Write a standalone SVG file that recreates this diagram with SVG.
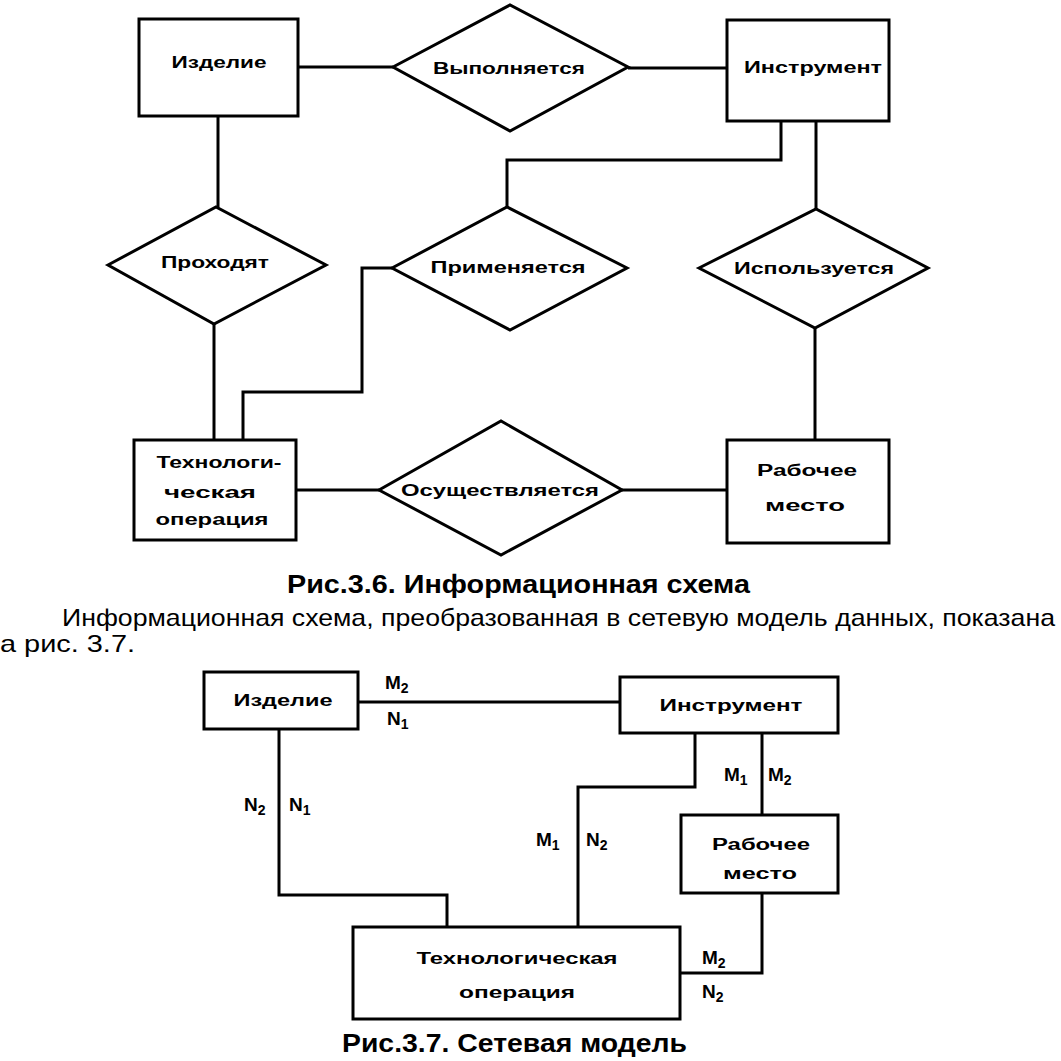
<svg xmlns="http://www.w3.org/2000/svg" width="1061" height="1061" viewBox="0 0 1061 1061">
<style>
.b{fill:#fff;stroke:#000;stroke-width:3}
.c{fill:none;stroke:#000;stroke-width:3;stroke-linejoin:miter}
.t{font-family:"Liberation Sans",Arial,sans-serif;font-weight:bold;font-size:16px;fill:#000;text-anchor:middle}
.l{font-family:"Liberation Sans",Arial,sans-serif;font-weight:bold;font-size:19px;fill:#000}
.s{font-size:14px}
.cap{font-family:"Liberation Sans",Arial,sans-serif;font-weight:bold;font-size:25px;fill:#000}
.p{font-family:"Liberation Sans",Arial,sans-serif;font-size:24px;fill:#000}
</style>
<rect width="1061" height="1061" fill="#fff"/>
<g id="connectors">
<path class="c" d="M298 67H393"/>
<path class="c" d="M628 68H727"/>
<path class="c" d="M218 116V207"/>
<path class="c" d="M214 324V440"/>
<path class="c" d="M507 207V160H781V121"/>
<path class="c" d="M392 268H362V392H243V440"/>
<path class="c" d="M816 121V209"/>
<path class="c" d="M815 328V440"/>
<path class="c" d="M296 490H379"/>
<path class="c" d="M622 490H727"/>
<path class="c" d="M358 702H620"/>
<path class="c" d="M279 729V895H447V927"/>
<path class="c" d="M695 733V787H578V927"/>
<path class="c" d="M762 733V815"/>
<path class="c" d="M762 893V973H680"/>
</g>
<g id="top-izdelie"><rect class="b" x="139" y="19" width="159" height="97"/><text class="t" x="219" y="68" textLength="95" lengthAdjust="spacingAndGlyphs">Изделие</text></g>
<g id="top-vypolnyaetsya"><polygon class="b" points="393,67 510,5 628,67 510,131"/><text class="t" x="509" y="74" textLength="152" lengthAdjust="spacingAndGlyphs">Выполняется</text></g>
<g id="top-instrument"><rect class="b" x="727" y="20" width="162" height="101"/><text class="t" x="813" y="73" textLength="138" lengthAdjust="spacingAndGlyphs">Инструмент</text></g>
<g id="top-prohodyat"><polygon class="b" points="108,265 216,207 326,265 214,324"/><text class="t" x="215" y="268" textLength="108" lengthAdjust="spacingAndGlyphs">Проходят</text></g>
<g id="top-primenyaetsya"><polygon class="b" points="392,268 507,207 627,268 510,330"/><text class="t" x="508" y="273" textLength="155" lengthAdjust="spacingAndGlyphs">Применяется</text></g>
<g id="top-ispolzuetsya"><polygon class="b" points="699,268 816,209 928,268 815,328"/><text class="t" x="814" y="274" textLength="160" lengthAdjust="spacingAndGlyphs">Используется</text></g>
<g id="top-tehoper"><rect class="b" x="134" y="440" width="162" height="100"/>
<text class="t" x="219" y="468" textLength="125" lengthAdjust="spacingAndGlyphs">Технологи-</text>
<text class="t" x="210" y="498" textLength="92" lengthAdjust="spacingAndGlyphs">ческая</text>
<text class="t" x="212" y="525" textLength="113" lengthAdjust="spacingAndGlyphs">операция</text></g>
<g id="top-osuschestvlyaetsya"><polygon class="b" points="379,490 501,421 622,490 501,555"/><text class="t" x="500" y="496" textLength="198" lengthAdjust="spacingAndGlyphs">Осуществляется</text></g>
<g id="top-rabmesto"><rect class="b" x="727" y="440" width="162" height="103"/>
<text class="t" x="807" y="476" textLength="100" lengthAdjust="spacingAndGlyphs">Рабочее</text>
<text class="t" x="805" y="511" textLength="80" lengthAdjust="spacingAndGlyphs">место</text></g>
<text class="cap" x="287" y="593" textLength="463" lengthAdjust="spacingAndGlyphs">Рис.3.6. Информационная схема</text>
<text class="p" x="62" y="626" textLength="993" lengthAdjust="spacingAndGlyphs">Информационная схема, преобразованная в сетевую модель данных, показана</text>
<text class="p" x="0" y="652" textLength="135" lengthAdjust="spacingAndGlyphs">а рис. 3.7.</text>
<g id="bot-izdelie"><rect class="b" x="204" y="672" width="154" height="57"/><text class="t" x="283" y="706" textLength="99" lengthAdjust="spacingAndGlyphs">Изделие</text></g>
<g id="bot-instrument"><rect class="b" x="620" y="677" width="218" height="56"/><text class="t" x="731" y="711" textLength="143" lengthAdjust="spacingAndGlyphs">Инструмент</text></g>
<g id="bot-rabmesto"><rect class="b" x="681" y="815" width="157" height="78"/>
<text class="t" x="761" y="850" textLength="98" lengthAdjust="spacingAndGlyphs">Рабочее</text>
<text class="t" x="760" y="879" textLength="74" lengthAdjust="spacingAndGlyphs">место</text></g>
<g id="bot-tehoper"><rect class="b" x="353" y="927" width="327" height="92"/>
<text class="t" x="517" y="964" textLength="201" lengthAdjust="spacingAndGlyphs">Технологическая</text>
<text class="t" x="517" y="998" textLength="116" lengthAdjust="spacingAndGlyphs">операция</text></g>
<g id="labels">
<text class="l" x="385" y="689">M<tspan class="s" dy="4">2</tspan></text>
<text class="l" x="387" y="725">N<tspan class="s" dy="4">1</tspan></text>
<text class="l" x="244" y="811">N<tspan class="s" dy="4">2</tspan></text>
<text class="l" x="289" y="811">N<tspan class="s" dy="4">1</tspan></text>
<text class="l" x="536" y="846">M<tspan class="s" dy="4">1</tspan></text>
<text class="l" x="586" y="846">N<tspan class="s" dy="4">2</tspan></text>
<text class="l" x="724" y="781">M<tspan class="s" dy="4">1</tspan></text>
<text class="l" x="768" y="781">M<tspan class="s" dy="4">2</tspan></text>
<text class="l" x="702" y="964">M<tspan class="s" dy="4">2</tspan></text>
<text class="l" x="702" y="998">N<tspan class="s" dy="4">2</tspan></text>
</g>
<text class="cap" x="342" y="1052" textLength="345" lengthAdjust="spacingAndGlyphs">Рис.3.7. Сетевая модель</text>
</svg>
